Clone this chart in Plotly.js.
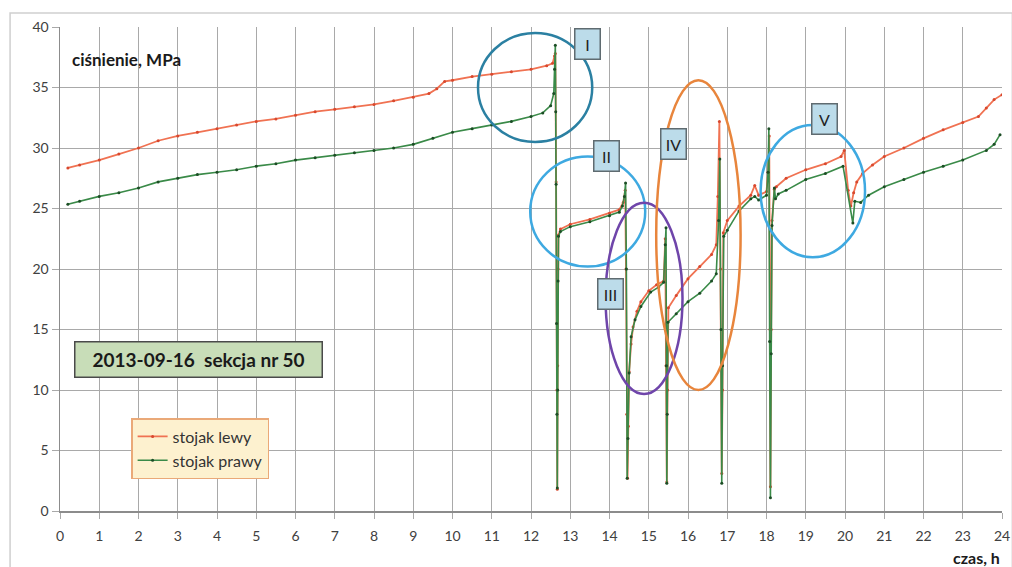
<!DOCTYPE html>
<html>
<head>
<meta charset="utf-8">
<script src="https://cdn.plot.ly/plotly-3.0.1.min.js"></script>
<style>html,body{margin:0;padding:0;background:#fff;}#chart{width:1012px;height:567px;}</style>
</head>
<body>
<div id="chart"></div>
<script>
// ---- data ----
var seriesNames = ['stojak lewy', 'stojak prawy'];

var timeLeft = [0.2,0.5,1.0,1.5,2.0,2.5,3.0,3.5,4.0,4.5,5.0,5.5,6.0,6.5,7.0,7.5,8.0,8.5,9.0,9.4,9.6,9.8,10.0,10.5,11.0,11.5,12.0,12.4,12.55,12.6,12.62,12.64,12.66,12.67,12.68,12.69,12.7,12.75,13.0,13.5,14.0,14.25,14.35,14.4,14.42,14.44,14.46,14.48,14.5,14.55,14.6,14.7,14.8,15.0,15.2,15.38,15.42,15.44,15.46,15.48,15.5,15.7,16.0,16.3,16.6,16.72,16.76,16.8,16.83,16.86,16.88,16.9,17.0,17.3,17.6,17.7,17.8,18.0,18.04,18.07,18.09,18.1,18.12,18.14,18.2,18.25,18.5,19.0,19.5,19.9,19.98,20.08,20.15,20.22,20.3,20.45,20.7,21.0,21.5,22.0,22.5,23.0,23.4,23.6,23.8,24.0];
var pressureLeft = [28.35,28.6,29.0,29.5,30.0,30.6,31.0,31.3,31.6,31.9,32.2,32.4,32.7,33.0,33.2,33.4,33.6,33.9,34.2,34.5,34.9,35.5,35.6,35.9,36.1,36.3,36.5,36.8,37.0,37.6,37.8,27.2,10.0,1.8,12.0,20.0,22.8,23.3,23.7,24.1,24.6,24.9,25.5,26.5,20.0,8.0,2.7,7.0,11.5,13.8,15.2,16.5,17.3,18.2,18.7,19.0,22.5,12.0,2.4,10.0,16.8,17.8,19.2,20.2,21.2,22.0,26.0,32.2,20.0,3.1,10.0,23.0,24.0,25.2,26.1,26.9,26.1,26.4,28.0,31.0,15.0,2.0,15.0,24.0,26.6,26.8,27.5,28.2,28.7,29.3,29.8,26.5,25.2,26.3,27.2,27.9,28.6,29.3,30.0,30.8,31.5,32.1,32.6,33.3,34.0,34.4];

var timeRight = [0.2,0.5,1.0,1.5,2.0,2.5,3.0,3.5,4.0,4.5,5.0,5.5,6.0,6.5,7.0,7.5,8.0,8.5,9.0,9.5,10.0,10.5,11.0,11.5,12.0,12.3,12.5,12.58,12.6,12.62,12.63,12.64,12.65,12.66,12.67,12.68,12.69,12.7,12.75,13.0,13.5,14.0,14.25,14.33,14.38,14.41,14.43,14.45,14.47,14.5,14.55,14.65,14.8,15.05,15.25,15.38,15.42,15.44,15.45,15.46,15.47,15.49,15.7,16.0,16.3,16.6,16.72,16.78,16.81,16.84,16.86,16.88,16.91,17.0,17.3,17.6,17.7,17.8,18.0,18.04,18.06,18.08,18.1,18.12,18.14,18.2,18.23,18.3,18.5,19.0,19.5,19.95,20.2,20.25,20.4,20.6,21.0,21.5,22.0,22.5,23.0,23.6,23.8,23.95];
var pressureRight = [25.35,25.6,26.0,26.3,26.7,27.2,27.5,27.8,28.0,28.2,28.5,28.7,29.0,29.2,29.4,29.6,29.8,30.0,30.3,30.8,31.3,31.6,31.9,32.2,32.6,32.9,33.5,34.5,36.5,38.5,33.0,27.0,15.5,8.0,1.9,10.0,19.0,22.7,23.1,23.5,23.9,24.4,24.7,25.2,26.0,27.1,20.0,2.7,6.0,11.4,14.4,15.8,16.9,18.1,18.5,18.9,22.0,23.4,12.0,2.3,8.0,15.6,16.3,17.3,18.0,19.0,19.6,24.0,29.1,15.0,2.3,12.0,22.7,23.2,24.8,25.8,26.0,25.7,26.1,28.0,31.6,14.0,1.1,13.0,23.6,26.7,25.8,26.2,26.5,27.4,27.9,28.5,23.8,25.6,25.5,26.1,26.8,27.4,28.0,28.5,29.0,29.8,30.3,31.1];

var xTickValues = [0,1,2,3,4,5,6,7,8,9,10,11,12,13,14,15,16,17,18,19,20,21,22,23,24];
var yTickValues = [0,5,10,15,20,25,30,35,40];
var circleLabels = ['I','II','III','IV','V'];
var yAxisLabel = 'ciśnienie, MPa';
var xAxisLabel = 'czas, h';
var boxTitle = '2013-09-16  sekcja nr 50';

// ---- styles ----
var FONT = 'Lato, "Open Sans", sans-serif';
var traces = [
  {x: timeLeft, y: pressureLeft, name: seriesNames[0], type: 'scatter', mode: 'lines+markers',
   line: {color: '#f07252', width: 1.8}, marker: {color: '#d8482e', size: 3}},
  {x: timeRight, y: pressureRight, name: seriesNames[1], type: 'scatter', mode: 'lines+markers',
   line: {color: '#3a8a48', width: 1.6}, marker: {color: '#1c4d25', size: 3}}
];

var ellipses = [
  {x0: 10.65, x1: 13.56, y0: 30.5, y1: 39.5, color: '#2b80a2'},
  {x0: 11.98, x1: 14.91, y0: 20.2, y1: 29.3, color: '#3ea9e1'},
  {x0: 13.90, x1: 15.86, y0: 9.67, y1: 25.48, color: '#6f45aa'},
  {x0: 15.19, x1: 17.34, y0: 10.0, y1: 35.6, color: '#e8853c'},
  {x0: 17.85, x1: 20.51, y0: 20.97, y1: 31.9, color: '#3ea9e1'}
];
var labelPos = [[13.43, 38.6], [13.92, 29.3], [14.03, 17.9], [15.64, 30.3], [19.49, 32.4]];

var shapes = ellipses.map(function (e) {
  return {type: 'circle', xref: 'x', yref: 'y', x0: e.x0, x1: e.x1, y0: e.y0, y1: e.y1,
          line: {color: e.color, width: 2.5}, layer: 'above'};
});
// outer frame of the chart
shapes.push({type: 'rect', xref: 'paper', yref: 'paper', x0: -0.053, x1: 1.011, y0: -0.12, y1: 1.029,
             line: {color: '#cfcfcf', width: 1.5}, layer: 'below'});

var annotations = circleLabels.map(function (t, i) {
  return {x: labelPos[i][0], y: labelPos[i][1], xref: 'x', yref: 'y', text: t, showarrow: false,
          font: {family: FONT, size: 16, color: '#222'}, bgcolor: '#bcdcea', bordercolor: '#5f6b70',
          borderwidth: 1.5, borderpad: 2, width: 20, height: 25};
});
annotations.push({xref: 'paper', yref: 'paper', x: 0.0106, y: 0.932, xanchor: 'left', yanchor: 'middle',
  text: '<b>' + yAxisLabel + '</b>', showarrow: false, font: {family: FONT, size: 17, color: '#1a1a1a'}});
annotations.push({xref: 'paper', yref: 'paper', x: 1.0, y: -0.097, xanchor: 'right', yanchor: 'middle',
  text: '<b>' + xAxisLabel + '</b>', showarrow: false, font: {family: FONT, size: 16, color: '#1a1a1a'}});
annotations.push({xref: 'paper', yref: 'paper', x: 0.1465, y: 0.312, xanchor: 'center', yanchor: 'middle',
  text: '<b>' + boxTitle + '</b>', showarrow: false, font: {family: FONT, size: 19, color: '#1a1a1a'},
  bgcolor: '#c8ddb8', bordercolor: '#4a4a4a', borderwidth: 1.5, borderpad: 4, width: 238, height: 26});

var layout = {
  width: 1012, height: 567,
  margin: {l: 60, r: 10, t: 27, b: 56},
  paper_bgcolor: '#ffffff', plot_bgcolor: '#ffffff',
  font: {family: FONT, size: 14, color: '#404040'},
  showlegend: true,
  legend: {x: 0.0755, y: 0.192, xanchor: 'left', yanchor: 'top', bgcolor: '#fdf1cf',
           bordercolor: '#eaa978', borderwidth: 1.5, font: {family: FONT, size: 16, color: '#333'},
           itemwidth: 30, tracegroupgap: 2},
  xaxis: {range: [0, 24], tickvals: xTickValues, ticktext: xTickValues.map(String),
          showgrid: true, gridcolor: '#a9a9a9', gridwidth: 1, zeroline: false,
          showline: true, linecolor: '#8c8c8c', linewidth: 1.5,
          ticks: 'outside', ticklen: 6, tickcolor: '#a9a9a9', ticklabelstandoff: 6,
          ticklabeloverflow: 'allow',
          tickfont: {family: FONT, size: 14, color: '#404040'}, fixedrange: true},
  yaxis: {range: [0, 40], tickvals: yTickValues, ticktext: yTickValues.map(String),
          showgrid: true, gridcolor: '#a9a9a9', gridwidth: 1, zeroline: false,
          showline: true, linecolor: '#8c8c8c', linewidth: 1.5,
          ticks: 'outside', ticklen: 7, tickcolor: '#a9a9a9',
          tickfont: {family: FONT, size: 14, color: '#404040'}, fixedrange: true},
  shapes: shapes,
  annotations: annotations
};

Plotly.newPlot('chart', traces, layout, {displayModeBar: false, staticPlot: true});
</script>
</body>
</html>
